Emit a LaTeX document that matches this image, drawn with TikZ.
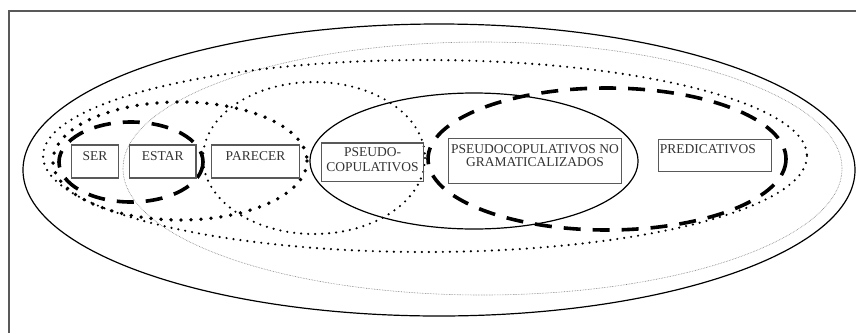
\documentclass[tikz,border=0pt]{standalone}
\usepackage{fontspec}
\setmainfont{Liberation Serif}
\usepackage{tikz}

\tikzset{
  caja/.style={draw=black!65, line width=1.2pt, inner sep=0pt, text=black!80,
    font=\fontsize{13.5}{14}\selectfont, align=center, text height=9pt},
  linea/.style={line width=1.2pt},
  rayas/.style={line width=3.6pt, dash pattern=on 17pt off 12pt},
  puntos/.style={line width=2.4pt, line cap=round, dash pattern=on 0pt off 7pt},
  puntosgordos/.style={line width=3.8pt, line cap=round, dash pattern=on 0pt off 10pt},
  fino/.style={black!55, line width=0.6pt, densely dotted},
}

\begin{document}
\begin{tikzpicture}[x=1pt,y=-1pt]
    \useasboundingbox (0,0) rectangle (856,333);
    \draw[black!65, line width=2pt] (856,11) -- (9,11) -- (9,333);
    % conjuntos
    \draw[linea] (439,170) ellipse [x radius=416, y radius=146];
    \draw[fino] (482.5,168.5) ellipse [x radius=359.5, y radius=126.5];
    \draw[puntos] (425,156) ellipse [x radius=382, y radius=96];
    \draw[puntosgordos] (180,161) ellipse [x radius=127, y radius=59];
    \draw[puntos] (314,158) ellipse [x radius=111, y radius=76];
    \draw[linea] (474,161) ellipse [x radius=164, y radius=68];
    \draw[rayas] (607,159) ellipse [x radius=179, y radius=71];
    \draw[rayas] (131,162) ellipse [x radius=72, y radius=40];
    % verbos
    \node[caja, minimum width=47pt, minimum height=33pt, text depth=11pt] (ser) at (95,161.5) {SER};
    \node[caja, minimum width=66.7pt, minimum height=33pt, text depth=11pt] (estar) at (162.7,161.5) {ESTAR};
    \node[caja, minimum width=87.6pt, minimum height=33pt, text depth=11pt] (parecer) at (255.5,161.5) {PARECER};
    \node[caja, minimum width=101.6pt, minimum height=38.5pt, text height=24pt, text depth=5.2pt,
      font=\fontsize{13.5}{15}\selectfont] (pseudo) at (372.5,162.3) {PSEUDO-\\COPULATIVOS};
    \node[caja, minimum width=173.4pt, minimum height=45pt, text height=22.4pt, text depth=10.6pt,
      font=\fontsize{13.5}{13.4}\selectfont] (nogram) at (535,160.8) {PSEUDOCOPULATIVOS NO\\GRAMATICALIZADOS};
    \node[caja, minimum width=113.4pt, minimum height=32.4pt, text depth=14pt,
      inner xsep=1.5pt, text width=110.4pt, align=left] (predic) at (715,155.5) {PREDICATIVOS};
\end{tikzpicture}
\end{document}
